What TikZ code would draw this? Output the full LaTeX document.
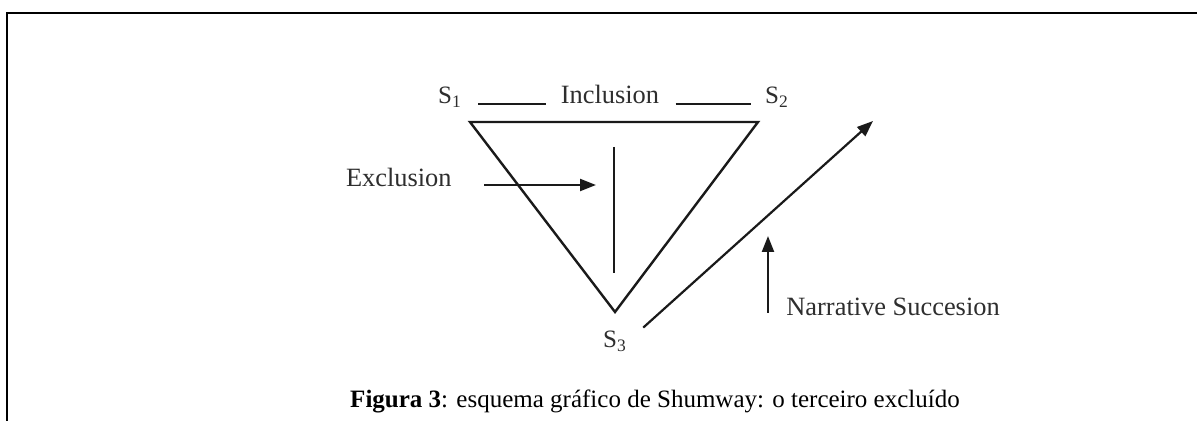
\documentclass[tikz,border=0pt]{standalone}
\usepackage{fontspec}
\setmainfont{Liberation Serif}
\usepackage{tikz}
\usetikzlibrary{positioning,arrows.meta,calc}
\definecolor{ink}{HTML}{1A1A1A}
\definecolor{lbl}{HTML}{2E2E2E}
\tikzset{
  frame/.style = {draw=black, line width=1pt},
  edge/.style  = {draw=ink, line width=1.2pt},
  lab/.style   = {text=lbl, inner sep=0pt, anchor=base,
                  font=\fontsize{13.2}{15}\selectfont},
  sym/.style   = {text=lbl, inner sep=0pt, anchor=base,
                  font=\fontsize{12.5}{14}\selectfont},
  tie/.style   = {draw=ink, line width=1.1pt, shorten <=8pt, shorten >=7pt},
  push/.style  = {->, draw=ink, line width=1.1pt, >={Triangle[length=8pt,width=6pt]}},
}
\begin{document}
\begin{tikzpicture}[x=0.5pt,y=-0.5pt]
  \useasboundingbox (0,0) rectangle (1197,421);
  % frame: top and left edge only
  \draw[frame] (7,421) -- (7,13) -- (1197,13);
  % labels of the three subjects
  \node[sym] (s1) at (450,104) {S\textsubscript{1}};
  \node[sym] (s2) at (777,104) {S\textsubscript{2}};
  \node[sym] (s3) at (615,348) {S\textsubscript{3}};
  \node[lab] (incl) at (610,104) {Inclusion};
  \node[lab, anchor=base east] (excl) at (452,187) {Exclusion};
  \node[lab, anchor=base west] (narr) at (786,316) {Narrative Succesion};
  \draw[tie] (s1.base east) -- (incl.base west);
  \draw[tie] (incl.base east) -- (s2.base west);
  % triangle
  \coordinate (v1) at (470,122);
  \coordinate (v2) at (758,122);
  \coordinate (v3) at (615,312);
  \draw[edge, line join=miter] (v1) -- (v2) -- (v3) -- cycle;
  \coordinate (bartop) at (614,147);
  \coordinate (barbot) at (614,273);
  \draw[edge] (bartop) -- (barbot);
  \coordinate (exhit) at (596,185);
  \draw[push, shorten <=16pt] (excl.base east |- exhit) -- (exhit);
  % narrative arrows
  \coordinate (goup) at (873,121);
  \draw[push] ($(s3.east)+(16,-14)$) coordinate (go) -- (goup);
  \coordinate (uptip) at (768,236);
  \draw[push] (768,313) coordinate (upfoot) -- (uptip);
  \node[anchor=base, inner sep=0pt, font=\fontsize{12.5}{15}\selectfont] (cap) at (655,408)
    {\textbf{Figura 3}: esquema gráfico de Shumway: o terceiro excluído};
\end{tikzpicture}
\end{document}
